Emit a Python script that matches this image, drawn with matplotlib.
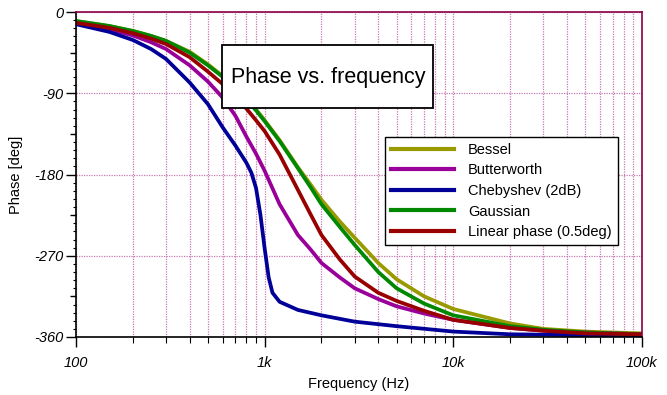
import matplotlib
matplotlib.use("Agg")
import matplotlib.pyplot as plt
from matplotlib.patches import Rectangle
from matplotlib.ticker import FixedLocator, FixedFormatter, LogLocator, NullFormatter, MultipleLocator

plt.rcParams['font.family'] = ['Liberation Sans', 'DejaVu Sans']
plt.rcParams['axes.unicode_minus'] = False

# frequencies (Hz)
freq = [100, 150, 200, 250, 300, 400, 500, 600, 700, 800, 900, 1000, 1200, 1500, 1750,
        2000, 2500, 3000, 4000, 5000, 7000, 10000, 20000, 30000, 50000, 100000]

bessel = [-10, -15.5, -21, -26.5, -32, -44, -58, -71, -84, -96, -108, -120, -142, -172, -191,
          -208, -232, -250, -278, -296, -315, -329, -345, -351, -354, -356]
butterworth = [-12.5, -19, -26, -33.5, -41, -59, -77, -95, -115, -138, -157, -176, -213, -247, -263,
               -278, -294, -306, -318, -326, -334, -341, -350, -353, -355, -357]
gaussian = [-10, -15.5, -21, -26.5, -32, -45, -59, -72, -85, -97, -109, -121, -143, -173, -194,
            -213, -238, -258, -288, -306, -323, -336, -348, -352, -355, -357]
linear = [-12, -17.5, -23.5, -29.5, -35.5, -50, -66, -80, -94, -107, -120, -132, -158, -197, -224,
          -247, -274, -293, -311, -320, -331, -341, -350, -353, -356, -357]

freq_cheb = [100, 150, 200, 250, 300, 400, 500, 600, 700, 800, 850, 900, 950, 1000, 1050, 1100,
             1200, 1500, 2000, 3000, 5000, 10000, 20000, 50000, 100000]
chebyshev = [-13.5, -22, -31, -41, -52, -78, -102, -128, -148, -167, -178, -195, -225, -262, -294, -311,
             -321, -330, -336, -343, -348, -354, -357, -358, -358]

series = [
    ("Bessel", freq, bessel, "#999900"),
    ("Butterworth", freq, butterworth, "#990099"),
    ("Chebyshev (2dB)", freq_cheb, chebyshev, "#000099"),
    ("Gaussian", freq, gaussian, "#008800"),
    ("Linear phase (0.5deg)", freq, linear, "#990000"),
]

x_ticks = [100, 1000, 10000, 100000]
x_labels = ["100", "1k", "10k", "100k"]
y_ticks = [0, -90, -180, -270, -360]
y_labels = ["0", "-90", "-180", "-270", "-360"]

W, H = 667, 395
fig = plt.figure(figsize=(W / 100, H / 100), dpi=100)
ax = fig.add_axes([76 / W, 1 - 337 / H, (642 - 76) / W, (337 - 12) / H])

for name, f, ph, col in series:
    ax.plot(f, ph, color=col, lw=2.7, label=name, solid_joinstyle='round')

ax.set_xscale('log')
ax.set_xlim(100, 100000)
ax.set_ylim(-360, 0)

ax.xaxis.set_major_locator(FixedLocator(x_ticks))
ax.xaxis.set_major_formatter(FixedFormatter(x_labels))
ax.xaxis.set_minor_locator(LogLocator(base=10, subs=range(2, 10)))
ax.xaxis.set_minor_formatter(NullFormatter())
ax.yaxis.set_major_locator(FixedLocator(y_ticks))
ax.yaxis.set_major_formatter(FixedFormatter(y_labels))
ax.yaxis.set_minor_locator(MultipleLocator(9))

ax.tick_params(which='major', direction='out', length=7, width=1, labelsize=10.5)
ax.tick_params(axis='x', which='major', pad=7)
ax.tick_params(axis='y', which='major', pad=2)
ax.tick_params(which='minor', direction='out', length=4, width=0.8)
ax.tick_params(axis='y', which='minor', length=2)
for lab in ax.get_xticklabels() + ax.get_yticklabels():
    lab.set_fontstyle('italic')

# medium ticks at the 45 degree points
sec = ax.secondary_yaxis('left')
sec.yaxis.set_major_locator(FixedLocator([-45, -135, -225, -315]))
sec.yaxis.set_major_formatter(NullFormatter())
sec.tick_params(direction='out', length=4, width=1)
sec.spines['left'].set_visible(False)

gcol = '#c878b0'
ax.grid(which='both', axis='x', color=gcol, ls=(0, (1, 1)), lw=0.9)
ax.grid(which='major', axis='y', color=gcol, ls=(0, (1, 1)), lw=0.9)
ax.set_axisbelow(True)

for s in ['top', 'right']:
    ax.spines[s].set_color('#8a0045')
    ax.spines[s].set_linewidth(1.2)
for s in ['left', 'bottom']:
    ax.spines[s].set_color('black')
    ax.spines[s].set_linewidth(1.2)

ax.set_xlabel("Frequency (Hz)", fontsize=10.5, labelpad=5)
ax.set_ylabel("Phase [deg]", fontsize=10.5, labelpad=8)

leg = ax.legend(loc='upper left', bbox_to_anchor=(385 / W, 1 - 137 / H),
                bbox_transform=fig.transFigure, borderaxespad=0, fancybox=False,
                framealpha=1, edgecolor='black', fontsize=10.5, handlelength=4.3,
                handletextpad=1.0, borderpad=0.4, labelspacing=0.45)
leg.get_frame().set_linewidth(1.0)
for line in leg.get_lines():
    line.set_linewidth(3)

# title box
fig.patches.append(Rectangle((222 / W, 1 - 108 / H), (433 - 222) / W, (108 - 45) / H,
                             transform=fig.transFigure, facecolor='white',
                             edgecolor='black', lw=1.3, zorder=5))
fig.text(328 / W, 1 - 77 / H, "Phase vs. frequency", fontsize=15.5, ha='center',
         va='center', zorder=6)

fig.savefig("out.png", dpi=100)
